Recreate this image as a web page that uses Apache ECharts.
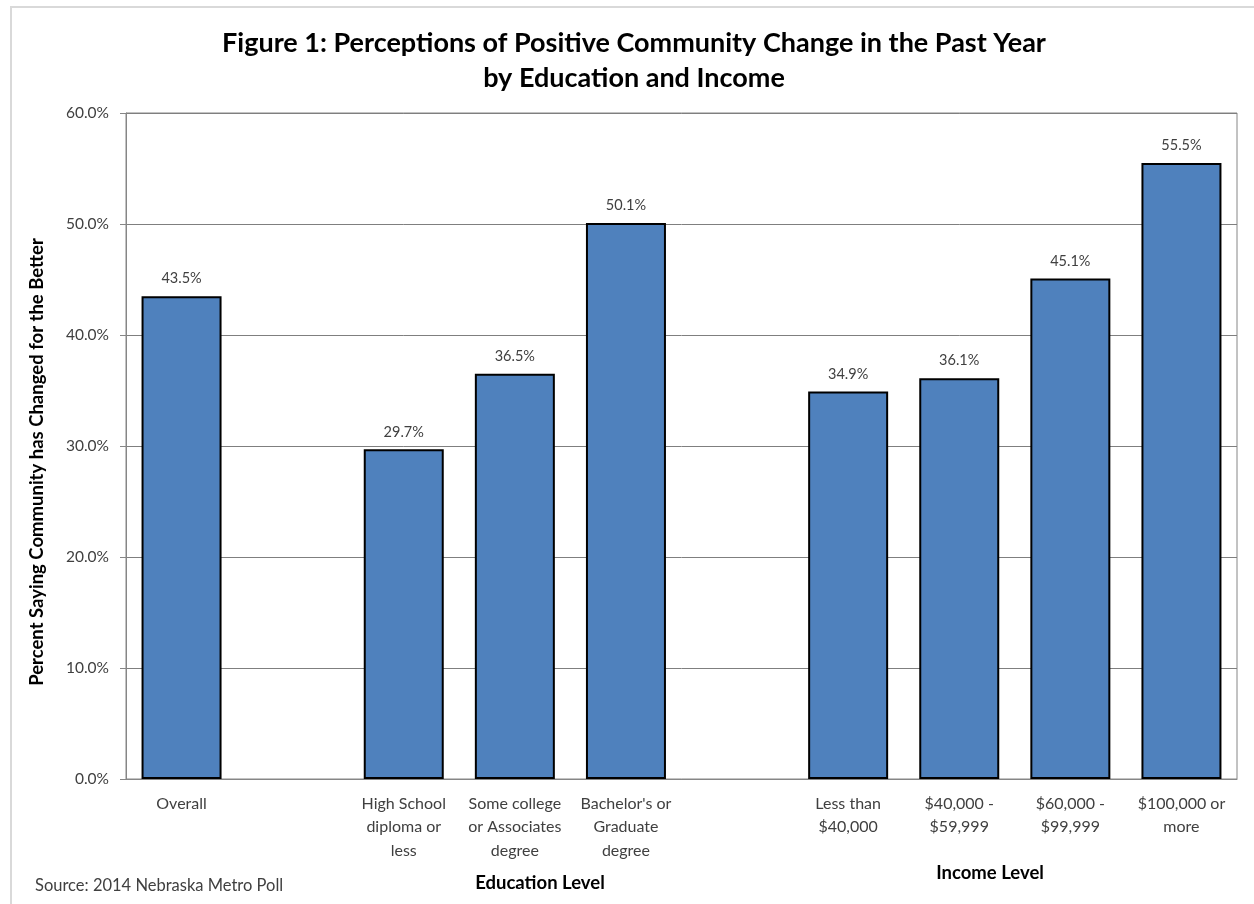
<!DOCTYPE html>
<html>
<head>
<meta charset="utf-8">
<script src="https://cdn.jsdelivr.net/npm/echarts@6/dist/echarts.min.js"></script>
<style>
html,body{margin:0;padding:0;background:#fff;}
#chart{width:1254px;height:904px;}
</style>
</head>
<body>
<div id="chart"></div>
<script>
var categories = [
  'Overall', '',
  'High School\ndiploma or\nless',
  'Some college\nor Associates\ndegree',
  "Bachelor's or\nGraduate\ndegree",
  '',
  'Less than\n$40,000',
  '$40,000 -\n$59,999',
  '$60,000 -\n$99,999',
  '$100,000 or\nmore'
];
var values = [43.5, null, 29.7, 36.5, 50.1, null, 34.9, 36.1, 45.1, 55.5];
var yTicks = [0, 10, 20, 30, 40, 50, 60];

var FONT = 'Lato';
var chart = echarts.init(document.getElementById('chart'));
chart.setOption({
  backgroundColor: '#ffffff',
  animation: false,
  title: {
    text: 'Figure 1: Perceptions of Positive Community Change in the Past Year\nby Education and Income',
    left: 629, top: 21, textAlign: 'center',
    textStyle: { fontFamily: FONT, fontWeight: 'bold', fontSize: 27, color: '#000', lineHeight: 35 }
  },
  grid: { left: 126, right: 17, top: 113, bottom: 125, show: true, borderColor: '#868686', borderWidth: 1 },
  xAxis: {
    type: 'category',
    data: categories,
    axisLine: { show: true, lineStyle: { color: '#868686', width: 1 } },
    axisTick: { show: false },
    axisLabel: { interval: 0, fontFamily: FONT, fontSize: 16, color: '#404040', lineHeight: 23.5, margin: 13 }
  },
  yAxis: {
    type: 'value',
    min: yTicks[0], max: yTicks[yTicks.length - 1], interval: 10,
    axisLine: { show: true, lineStyle: { color: '#868686', width: 1 } },
    axisTick: { show: true, inside: false, length: 6, lineStyle: { color: '#868686' } },
    axisLabel: { fontFamily: FONT, fontSize: 15.5, color: '#404040', margin: 17,
      formatter: function (v) { return v.toFixed(1) + '%'; } },
    splitLine: { show: true, lineStyle: { color: '#7f7f7f', width: 1 } }
  },
  series: [{
    type: 'bar',
    data: values,
    barWidth: 80,
    itemStyle: { color: '#4f81bd', borderColor: '#000', borderWidth: 2 },
    label: { show: true, position: 'top', distance: 10, fontFamily: FONT, fontSize: 14.5, color: '#404040',
      formatter: function (p) { return p.value == null ? '' : p.value.toFixed(1) + '%'; } }
  }],
  graphic: [
    { type: 'rect', silent: true, shape: { x: 11, y: 7, width: 1400, height: 1100 },
      style: { fill: 'none', stroke: '#d9d9d9', lineWidth: 2 } },
    { type: 'text', x: 37, y: 462, rotation: Math.PI / 2,
      style: { text: 'Percent Saying Community has Changed for the Better', fontFamily: FONT, fontWeight: 'bold',
        fontSize: 18.5, fill: '#000', align: 'center', verticalAlign: 'middle' } },
    { type: 'text', x: 540, y: 883, style: { text: 'Education Level', fontFamily: FONT, fontWeight: 'bold', fontSize: 18.5, fill: '#000', align: 'center', verticalAlign: 'middle' } },
    { type: 'text', x: 990, y: 873, style: { text: 'Income Level', fontFamily: FONT, fontWeight: 'bold', fontSize: 18.5, fill: '#000', align: 'center', verticalAlign: 'middle' } },
    { type: 'text', x: 35, y: 886, style: { text: 'Source: 2014 Nebraska Metro Poll', fontFamily: FONT, fontSize: 16.5, fill: '#404040', align: 'left', verticalAlign: 'middle' } }
  ]
});
</script>
</body>
</html>
